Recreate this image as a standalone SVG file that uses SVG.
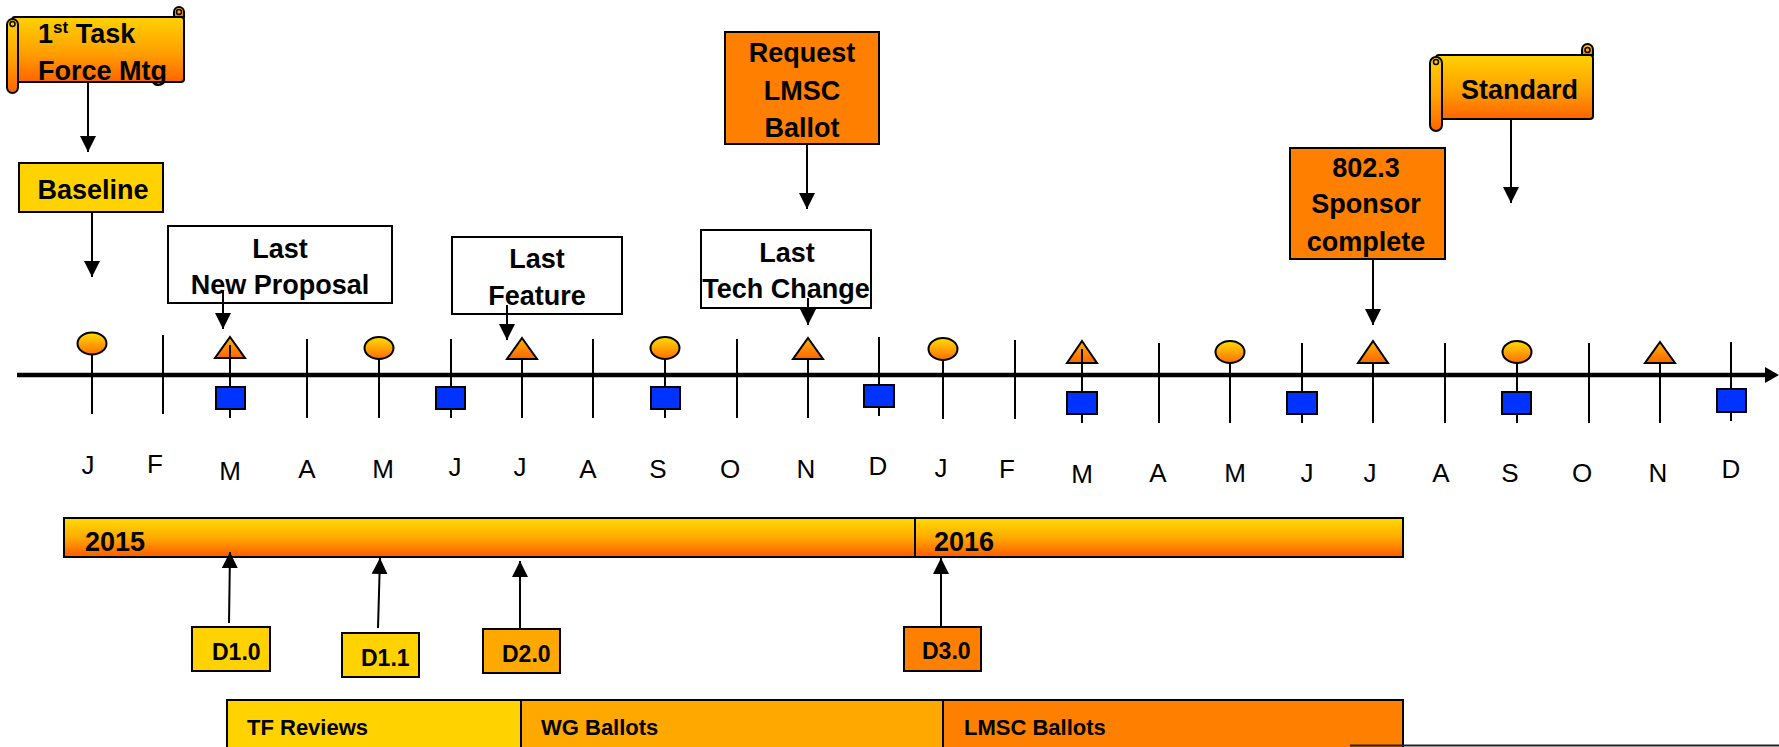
<svg xmlns="http://www.w3.org/2000/svg" width="1779" height="747" viewBox="0 0 1779 747">
<defs>
  <linearGradient id="gScroll" x1="0" y1="0" x2="0" y2="1">
    <stop offset="0" stop-color="#FFD200"/>
    <stop offset="0.55" stop-color="#FFA000"/>
    <stop offset="1" stop-color="#FF6400"/>
  </linearGradient>
  <linearGradient id="gBar" x1="0" y1="0" x2="0" y2="1">
    <stop offset="0" stop-color="#FFDC00"/>
    <stop offset="0.5" stop-color="#FFAA00"/>
    <stop offset="1" stop-color="#FF5A00"/>
  </linearGradient>
  <linearGradient id="gCirc" x1="0" y1="0" x2="0" y2="1">
    <stop offset="0" stop-color="#FFDC00"/>
    <stop offset="1" stop-color="#FF6E00"/>
  </linearGradient>
  <linearGradient id="gTri" x1="0" y1="0" x2="0" y2="1">
    <stop offset="0" stop-color="#FFB400"/>
    <stop offset="1" stop-color="#FF6400"/>
  </linearGradient>
  <marker id="arr" markerUnits="userSpaceOnUse" viewBox="0 0 16 16" markerWidth="16" markerHeight="16" refX="16" refY="8" orient="auto">
    <path d="M0,0 L16,8 L0,16 Z" fill="#000"/>
  </marker>
</defs>
<style>
  .box { stroke: #000; stroke-width: 2; }
  .white { fill: #FFFFFF; }
  .gold { fill: #FFD200; }
  .amber { fill: #FFA800; }
  .orange { fill: #FF7F00; }
  .lbl { font-family: "Liberation Sans", Arial, sans-serif; font-weight: bold; font-size: 27px; fill: #000; }
  .sm { font-family: "Liberation Sans", Arial, sans-serif; font-weight: bold; font-size: 23px; fill: #000; }
  .ph { font-family: "Liberation Sans", Arial, sans-serif; font-weight: bold; font-size: 22px; fill: #000; }
  .mon { font-family: "Liberation Sans", Arial, sans-serif; font-size: 26px; fill: #000; text-anchor: middle; }
  .mid { text-anchor: middle; }
  .conn { stroke: #000; stroke-width: 2; fill: none; marker-end: url(#arr); }
  .tick { stroke: #000; stroke-width: 2; }
  .circ { fill: url(#gCirc); stroke: #000; stroke-width: 2; }
  .tri { fill: url(#gTri); stroke: #000; stroke-width: 2; stroke-linejoin: miter; }
  .sq { fill: #0033FF; stroke: #000; stroke-width: 2; }
  .scr { fill: url(#gScroll); stroke: #000; stroke-width: 2; }
  .curl { fill: none; stroke: #000; stroke-width: 1.5; }
</style>

<!-- Top nodes -->
<g id="scroll-task-force">
  <rect class="scr" x="12" y="17" width="172" height="65" rx="3"/>
  <path class="scr" d="M174,17 V12 A5,5 0 0 1 184,12 V17 Z"/>
  <rect class="scr" x="7" y="19" width="11" height="74" rx="5.5"/>
  <circle class="curl" cx="12.5" cy="24" r="2.5"/>
  <circle class="curl" cx="179" cy="12" r="2.5"/>
  <text class="lbl" x="38" y="43">1<tspan font-size="17" dy="-10">st</tspan><tspan dy="10"> Task</tspan></text>
  <text class="lbl" x="38" y="80">Force Mtg</text>
</g>

<g id="box-baseline">
  <rect class="box gold" x="19" y="163" width="144" height="49"/>
  <text class="lbl mid" x="93" y="199">Baseline</text>
</g>

<g id="box-new-proposal">
  <rect class="box white" x="168" y="226" width="224" height="77"/>
  <text class="lbl mid" x="280" y="258">Last</text>
  <text class="lbl mid" x="280" y="294">New Proposal</text>
</g>

<g id="box-last-feature">
  <rect class="box white" x="452" y="237" width="170" height="77"/>
  <text class="lbl mid" x="537" y="268">Last</text>
  <text class="lbl mid" x="537" y="305">Feature</text>
</g>

<g id="box-request-lmsc">
  <rect class="box orange" x="725" y="32" width="154" height="112"/>
  <text class="lbl mid" x="802" y="62">Request</text>
  <text class="lbl mid" x="802" y="100">LMSC</text>
  <text class="lbl mid" x="802" y="137">Ballot</text>
</g>

<g id="box-tech-change">
  <rect class="box white" x="701" y="230" width="170" height="78"/>
  <text class="lbl mid" x="787" y="262">Last</text>
  <text class="lbl mid" x="786" y="298">Tech Change</text>
</g>

<g id="box-sponsor">
  <rect class="box orange" x="1290" y="148" width="155" height="111"/>
  <text class="lbl mid" x="1366" y="177">802.3</text>
  <text class="lbl mid" x="1366" y="213">Sponsor</text>
  <text class="lbl mid" x="1366" y="251">complete</text>
</g>

<g id="scroll-standard">
  <rect class="scr" x="1436" y="55" width="157" height="64" rx="3"/>
  <path class="scr" d="M1582,55 V49.5 A5.5,5.5 0 0 1 1593,49.5 V55 Z"/>
  <rect class="scr" x="1430" y="57" width="12" height="74" rx="6"/>
  <circle class="curl" cx="1436" cy="62" r="2.5"/>
  <circle class="curl" cx="1587.5" cy="50" r="2.5"/>
  <text class="lbl" x="1461" y="99">Standard</text>
</g>

<!-- Timeline -->
<g id="timeline">
  <line x1="17" y1="375" x2="1768" y2="375" stroke="#000" stroke-width="4.5"/>
  <polygon points="1765,367 1779,375 1765,383" fill="#000"/>

  <line class="tick" x1="92" y1="344" x2="92" y2="414"/>
  <line class="tick" x1="163" y1="335" x2="163" y2="414"/>
  <line class="tick" x1="307" y1="339" x2="307" y2="418"/>
  <line class="tick" x1="379" y1="348" x2="379" y2="418"/>
  <line class="tick" x1="451" y1="339" x2="451" y2="418"/>
  <line class="tick" x1="522" y1="355" x2="522" y2="418"/>
  <line class="tick" x1="593" y1="339" x2="593" y2="418"/>
  <line class="tick" x1="665" y1="348" x2="665" y2="418"/>
  <line class="tick" x1="737" y1="339" x2="737" y2="418"/>
  <line class="tick" x1="808" y1="355" x2="808" y2="418"/>
  <line class="tick" x1="879" y1="337" x2="879" y2="416"/>
  <line class="tick" x1="943" y1="349" x2="943" y2="419"/>
  <line class="tick" x1="1015" y1="340" x2="1015" y2="419"/>
  <line class="tick" x1="1159" y1="343" x2="1159" y2="423"/>
  <line class="tick" x1="1230" y1="352" x2="1230" y2="423"/>
  <line class="tick" x1="1302" y1="343" x2="1302" y2="423"/>
  <line class="tick" x1="1373" y1="358" x2="1373" y2="423"/>
  <line class="tick" x1="1445" y1="343" x2="1445" y2="423"/>
  <line class="tick" x1="1517" y1="352" x2="1517" y2="423"/>
  <line class="tick" x1="1589" y1="343" x2="1589" y2="423"/>
  <line class="tick" x1="1660" y1="358" x2="1660" y2="423"/>
  <line class="tick" x1="1731" y1="342" x2="1731" y2="421"/>

  <ellipse class="circ" cx="92" cy="343.5" rx="14.5" ry="11"/>
  <ellipse class="circ" cx="379" cy="348" rx="14.5" ry="11"/>
  <ellipse class="circ" cx="665" cy="348" rx="14.5" ry="11"/>
  <ellipse class="circ" cx="943" cy="349" rx="14.5" ry="11"/>
  <ellipse class="circ" cx="1230" cy="352" rx="14.5" ry="11"/>
  <ellipse class="circ" cx="1517" cy="352" rx="14.5" ry="11"/>

  <polygon class="tri" points="230,337 245,358 215,358"/>
  <line class="tick" x1="230" y1="345" x2="230" y2="418"/>
  <polygon class="tri" points="522,338 537,359 507,359"/>
  <polygon class="tri" points="808,338 823,359 793,359"/>
  <polygon class="tri" points="1082,341 1097,363 1067,363"/>
  <line class="tick" x1="1082" y1="349" x2="1082" y2="423"/>
  <polygon class="tri" points="1373,341 1388,363 1358,363"/>
  <polygon class="tri" points="1660,342 1675,363 1645,363"/>

  <rect class="sq" x="216" y="387" width="29" height="22"/>
  <rect class="sq" x="436" y="387" width="29" height="22"/>
  <rect class="sq" x="651" y="387" width="29" height="22"/>
  <rect class="sq" x="864" y="385" width="30" height="22"/>
  <rect class="sq" x="1067" y="392" width="30" height="22"/>
  <rect class="sq" x="1287" y="392" width="30" height="22"/>
  <rect class="sq" x="1502" y="392" width="29" height="22"/>
  <rect class="sq" x="1717" y="389" width="29" height="23"/>

  <text class="mon" x="88" y="474">J</text>
  <text class="mon" x="155" y="473">F</text>
  <text class="mon" x="230" y="480">M</text>
  <text class="mon" x="307" y="478">A</text>
  <text class="mon" x="383" y="478">M</text>
  <text class="mon" x="455" y="476">J</text>
  <text class="mon" x="520" y="476">J</text>
  <text class="mon" x="588" y="478">A</text>
  <text class="mon" x="658" y="478">S</text>
  <text class="mon" x="730" y="478">O</text>
  <text class="mon" x="806" y="478">N</text>
  <text class="mon" x="878" y="475">D</text>
  <text class="mon" x="941" y="477">J</text>
  <text class="mon" x="1007" y="478">F</text>
  <text class="mon" x="1082" y="483">M</text>
  <text class="mon" x="1158" y="482">A</text>
  <text class="mon" x="1235" y="482">M</text>
  <text class="mon" x="1307" y="482">J</text>
  <text class="mon" x="1370" y="482">J</text>
  <text class="mon" x="1441" y="482">A</text>
  <text class="mon" x="1510" y="482">S</text>
  <text class="mon" x="1582" y="482">O</text>
  <text class="mon" x="1658" y="482">N</text>
  <text class="mon" x="1731" y="478">D</text>
</g>

<g id="bar-2015">
  <rect class="box" fill="url(#gBar)" x="64" y="518" width="851" height="39"/>
  <text class="lbl" x="85" y="551">2015</text>
</g>
<g id="bar-2016">
  <rect class="box" fill="url(#gBar)" x="915" y="518" width="488" height="39"/>
  <text class="lbl" x="934" y="551">2016</text>
</g>

<g id="box-d10">
  <rect class="box gold" x="192" y="627" width="78" height="44"/>
  <text class="sm" x="212" y="660">D1.0</text>
</g>
<g id="box-d11">
  <rect class="box gold" x="342" y="633" width="77" height="44"/>
  <text class="sm" x="361" y="666">D1.1</text>
</g>
<g id="box-d20">
  <rect class="box amber" x="483" y="629" width="77" height="44"/>
  <text class="sm" x="502" y="662">D2.0</text>
</g>
<g id="box-d30">
  <rect class="box orange" x="904" y="627" width="77" height="44"/>
  <text class="sm" x="922" y="659">D3.0</text>
</g>

<g id="phase-tf-reviews">
  <rect class="box gold" x="227" y="700" width="294" height="60"/>
  <text class="ph" x="247" y="735">TF Reviews</text>
</g>
<g id="phase-wg-ballots">
  <rect class="box amber" x="521" y="700" width="422" height="60"/>
  <text class="ph" x="541" y="735">WG Ballots</text>
</g>
<g id="phase-lmsc-ballots">
  <rect class="box orange" x="943" y="700" width="460" height="60"/>
  <text class="ph" x="964" y="735">LMSC Ballots</text>
</g>
<g id="edge-line">
  <line x1="1350" y1="745.5" x2="1779" y2="745.5" stroke="#222" stroke-width="2"/>
</g>

<g id="connectors">
  <line class="conn" x1="88" y1="83" x2="88" y2="152"/>
  <line class="conn" x1="92" y1="213" x2="92" y2="277"/>
  <line class="conn" x1="223" y1="290" x2="223" y2="329"/>
  <line class="conn" x1="507" y1="305" x2="507" y2="340"/>
  <line class="conn" x1="807" y1="145" x2="807" y2="209"/>
  <line class="conn" x1="808" y1="298" x2="808" y2="325"/>
  <line class="conn" x1="1373" y1="260" x2="1373" y2="325"/>
  <line class="conn" x1="1511" y1="120" x2="1511" y2="203"/>
  <line class="conn" x1="229" y1="623" x2="230" y2="552"/>
  <line class="conn" x1="378" y1="628" x2="380" y2="558"/>
  <line class="conn" x1="520" y1="629" x2="520" y2="561"/>
  <line class="conn" x1="941" y1="626" x2="941" y2="558"/>
</g>
</svg>
